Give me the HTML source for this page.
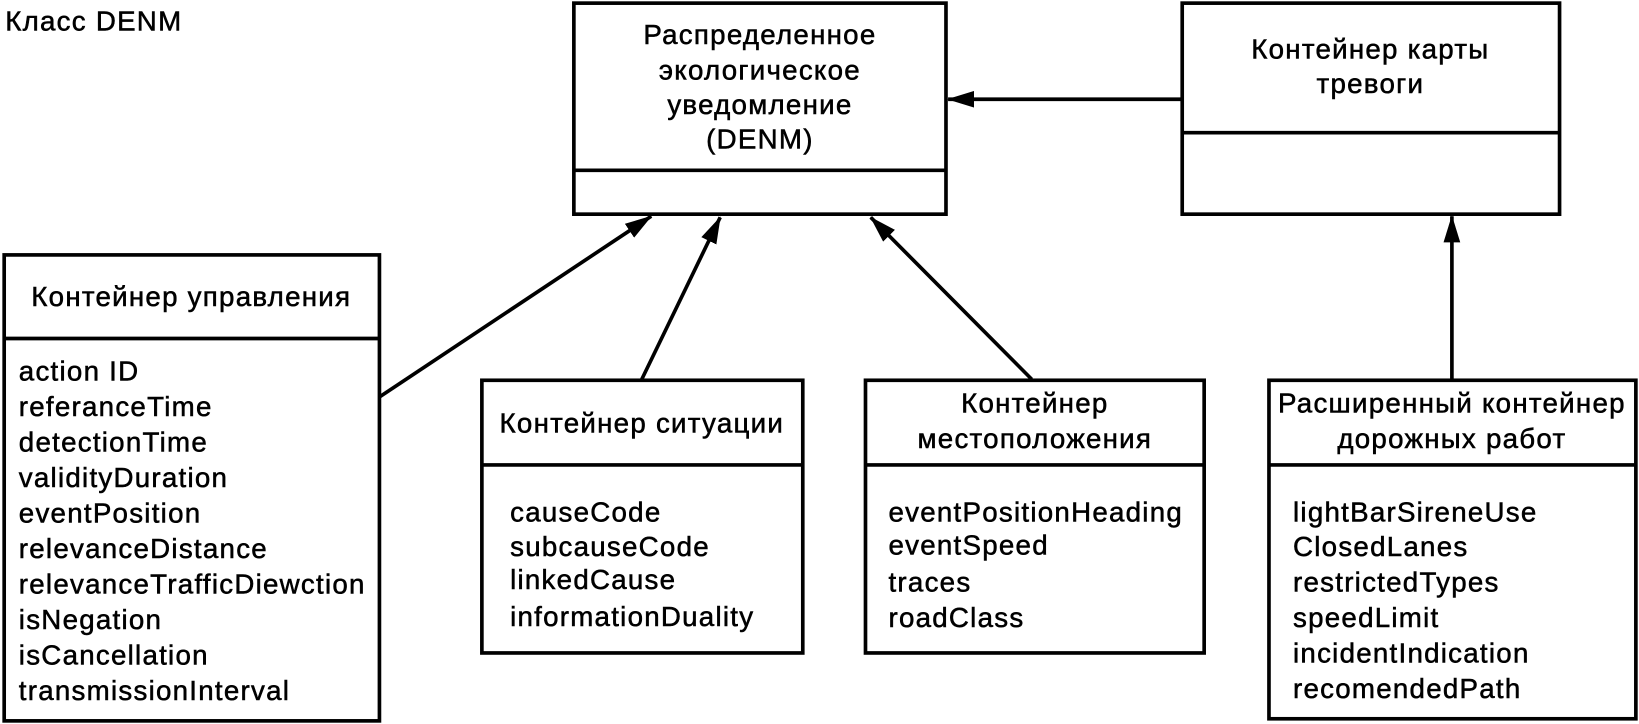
<!DOCTYPE html>
<html><head><meta charset="utf-8"><style>
html,body{margin:0;padding:0;background:#fff;}
svg{display:block;}
text{font-family:"Liberation Sans",Arial,sans-serif;font-size:26.5px;letter-spacing:1.2px;fill:#000;stroke:#000;stroke-width:0.5;}
</style></head><body>
<svg width="1639" height="724" viewBox="0 0 1568 693" preserveAspectRatio="none" xmlns="http://www.w3.org/2000/svg">
<defs>
<marker id="b" markerWidth="26" markerHeight="16" refX="25" refY="8" orient="auto" markerUnits="userSpaceOnUse"><path d="M0,0 L26,8 L0,16 Z" fill="#000"/></marker></defs>
<g fill="none" stroke="#000" stroke-width="3.5">
<rect x="549" y="3" width="356" height="202"/><line x1="549" y1="163" x2="905" y2="163"/>
<rect x="1131" y="3" width="361" height="202"/><line x1="1131" y1="127" x2="1492" y2="127"/>
<rect x="4" y="244" width="359" height="446"/><line x1="4" y1="324" x2="363" y2="324"/>
<rect x="461" y="364" width="307" height="261"/><line x1="461" y1="445" x2="768" y2="445"/>
<rect x="828" y="364" width="324" height="261"/><line x1="828" y1="445" x2="1152" y2="445"/>
<rect x="1214" y="364" width="351" height="324"/><line x1="1214" y1="445" x2="1565" y2="445"/>
<line x1="1131" y1="95" x2="907" y2="95" marker-end="url(#b)"/>
<line x1="363" y1="380" x2="623" y2="207" marker-end="url(#b)"/>
<line x1="614" y1="363" x2="689" y2="208" marker-end="url(#b)"/>
<line x1="987" y1="363" x2="833" y2="208" marker-end="url(#b)"/>
<line x1="1389" y1="363" x2="1389" y2="207" marker-end="url(#b)"/>
</g>
<text x="5" y="29">Класс DENM</text>
<g text-anchor="middle">
<text x="727" y="42">Распределенное</text>
<text x="727" y="76">экологическое</text>
<text x="727" y="109">уведомление</text>
<text x="727" y="142">(DENM)</text>
<text x="1311" y="56">Контейнер карты</text>
<text x="1311" y="89">тревоги</text>
<text x="183" y="293">Контейнер управления</text>
<text x="614" y="414">Контейнер ситуации</text>
<text x="990" y="395">Контейнер</text>
<text x="990" y="429">местоположения</text>
<text x="1389" y="395">Расширенный контейнер</text>
<text x="1389" y="429">дорожных работ</text>
</g>
<g>
<text x="18" y="364">action ID</text>
<text x="18" y="398">referanceTime</text>
<text x="18" y="432">detectionTime</text>
<text x="18" y="466">validityDuration</text>
<text x="18" y="500">eventPosition</text>
<text x="18" y="534">relevanceDistance</text>
<text x="18" y="568">relevanceTrafficDiewction</text>
<text x="18" y="602">isNegation</text>
<text x="18" y="636">isCancellation</text>
<text x="18" y="670">transmissionInterval</text>
<text x="488" y="499">causeCode</text>
<text x="488" y="532">subcauseCode</text>
<text x="488" y="564">linkedCause</text>
<text x="488" y="599">informationDuality</text>
<text x="850" y="499">eventPositionHeading</text>
<text x="850" y="531">eventSpeed</text>
<text x="850" y="566">traces</text>
<text x="850" y="600">roadClass</text>
<text x="1237" y="499">lightBarSireneUse</text>
<text x="1237" y="532">ClosedLanes</text>
<text x="1237" y="566">restrictedTypes</text>
<text x="1237" y="600">speedLimit</text>
<text x="1237" y="634">incidentIndication</text>
<text x="1237" y="668">recomendedPath</text>
</g>
</svg>
</body></html>
